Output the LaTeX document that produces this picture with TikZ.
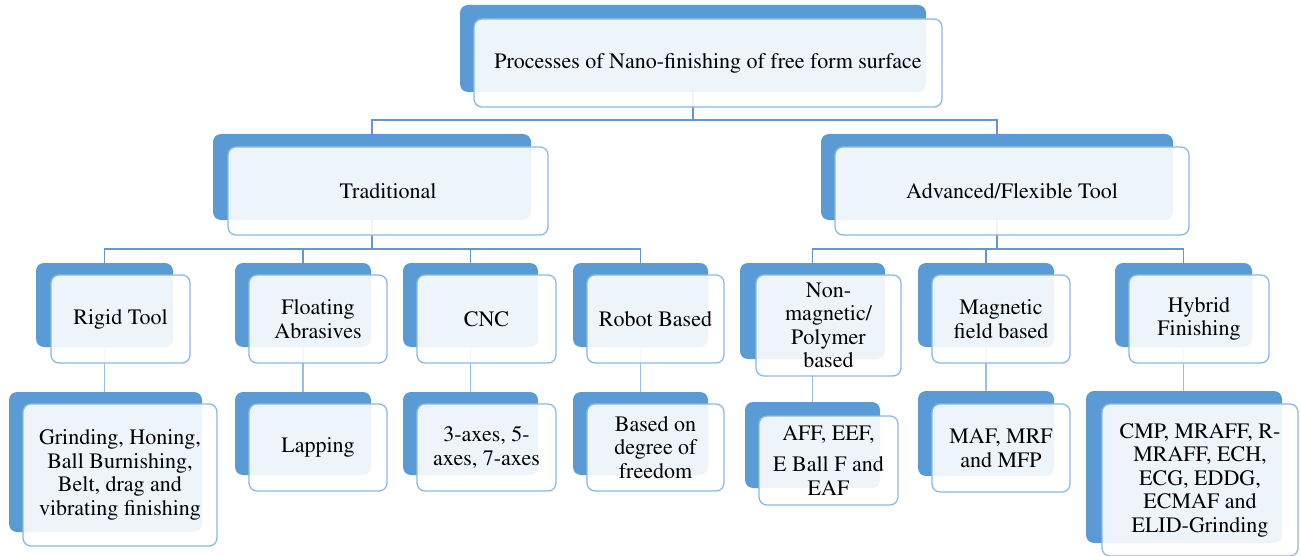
\documentclass[tikz,border=0pt]{standalone}
\usepackage[T1]{fontenc}
\usepackage{times}
\usepackage{tikz}
\usetikzlibrary{backgrounds}
\definecolor{darkbox}{HTML}{5B9BD5}
\definecolor{boxline}{RGB}{140,185,226}
\definecolor{busline}{RGB}{105,150,202}
\definecolor{linkline}{RGB}{150,190,230}

\begin{document}
\begin{tikzpicture}[x=1pt,y=-1pt,
  back/.style={rectangle,rounded corners=8pt,fill=darkbox,inner sep=0pt,outer sep=0pt},
  front/.style={rectangle,rounded corners=8pt,draw=boxline,line width=1.3pt,fill=white,fill opacity=.9,text opacity=1,align=center,inner sep=0pt,outer sep=0pt,font=\fontsize{22}{23.5}\selectfont},
  bus/.style={draw=busline,line width=1.6pt},
  link/.style={draw=linkline,line width=1.6pt}]
\useasboundingbox (0,0) rectangle (1300,556);
% root
\node[back,minimum width=466pt,minimum height=87pt] (top-b) at (693,48.5) {};
\node[front,minimum width=468pt,minimum height=88pt] (top) at (708,63) {Processes of Nano-finishing of free form surface};
% second level
\node[back,minimum width=318pt,minimum height=86pt] (trad-b) at (372,177) {};
\node[front,minimum width=320pt,minimum height=88pt] (trad) at (388,191) {Traditional};
\node[back,minimum width=352pt,minimum height=86pt] (adv-b) at (997,177) {};
\node[front,minimum width=354pt,minimum height=88pt] (adv) at (1012,191) {Advanced/Flexible Tool};
% third level
\node[back,minimum width=137pt,minimum height=84pt] (rigid-b) at (104.5,305) {};
\node[front,minimum width=139pt,minimum height=88pt] (rigid) at (120.5,319) {Rigid Tool};
\node[back,minimum width=136pt,minimum height=84pt] (float-b) at (303,305) {};
\node[front,minimum width=138pt,minimum height=88pt] (float) at (318,319) {Floating\\Abrasives};
\node[back,minimum width=135pt,minimum height=84pt] (cnc-b) at (470.5,305) {};
\node[front,minimum width=139pt,minimum height=88pt] (cnc) at (486.5,319) {CNC};
\node[back,minimum width=135pt,minimum height=84pt] (robot-b) at (640.5,305) {};
\node[front,minimum width=137pt,minimum height=88pt] (robot) at (655.5,319) {Robot Based};
\node[back,minimum width=145pt,minimum height=96pt] (nonmag-b) at (812.5,311) {};
\node[front,minimum width=145pt,minimum height=101pt] (nonmag) at (828.5,325.5) {Non-\\magnetic/\\Polymer\\based};
\node[back,minimum width=136pt,minimum height=84pt] (mag-b) at (986,305) {};
\node[front,minimum width=138pt,minimum height=88pt] (mag) at (1001,319) {Magnetic\\field based};
\node[back,minimum width=137pt,minimum height=84pt] (hybrid-b) at (1183.5,305) {};
\node[front,minimum width=140pt,minimum height=88pt] (hybrid) at (1199,319) {Hybrid\\Finishing};
% fourth level
\node[back,minimum width=193pt,minimum height=140pt] (grind-b) at (105.5,462) {};
\node[front,minimum width=194pt,minimum height=142pt] (grind) at (120,475) {Grinding, Honing,\\Ball Burnishing,\\Belt, drag and\\vibrating finishing};
\node[back,minimum width=136pt,minimum height=83pt] (lap-b) at (303,433.5) {};
\node[front,minimum width=138pt,minimum height=87pt] (lap) at (318,447.5) {Lapping};
\node[back,minimum width=135pt,minimum height=83pt] (axes-b) at (470.5,433.5) {};
\node[front,minimum width=139pt,minimum height=87pt] (axes) at (486.5,447.5) {3-axes, 5-\\axes, 7-axes};
\node[back,minimum width=135pt,minimum height=83pt] (dof-b) at (640.5,433.5) {};
\node[front,minimum width=137pt,minimum height=87pt] (dof) at (655.5,447.5) {Based on\\degree of\\freedom};
\node[back,minimum width=135pt,minimum height=86pt] (aff-b) at (812.5,445) {};
\node[front,minimum width=139pt,minimum height=89pt] (aff) at (828.5,460.5) {AFF, EEF,\\[8pt]E Ball F and\\EAF};
\node[back,minimum width=136pt,minimum height=85pt] (maf-b) at (986,433.5) {};
\node[front,minimum width=138pt,minimum height=88pt] (maf) at (1001,448) {MAF, MRF\\and MFP};
\node[back,minimum width=196pt,minimum height=152pt] (cmp-b) at (1184,467) {};
\node[front,minimum width=196pt,minimum height=152pt] (cmp) at (1200,480) {CMP, MRAFF, R-\\MRAFF, ECH,\\ECG, EDDG,\\ECMAF and\\ELID-Grinding};
% connectors
\begin{scope}[on background layer]
\coordinate (bus1) at (0,120);
\coordinate (bus2) at (0,249);
\foreach \c in {trad,adv}
  \draw[bus] (top-b.south) |- (\c-b.north |- bus1) -- (\c-b.north);
\foreach \c in {rigid,float,cnc,robot}
  \draw[bus] (trad-b.south) |- (\c-b.north |- bus2) -- (\c-b.north);
\foreach \c in {nonmag,mag,hybrid}
  \draw[bus] (adv-b.south) |- (\c-b.north |- bus2) -- (\c-b.north);
\foreach \p/\c in {rigid/grind,float/lap,cnc/axes,robot/dof,nonmag/aff,mag/maf,hybrid/cmp}
  \draw[link] (\p-b.south) -- (\p-b.south |- \c-b.north);
\end{scope}
\end{tikzpicture}
\end{document}
